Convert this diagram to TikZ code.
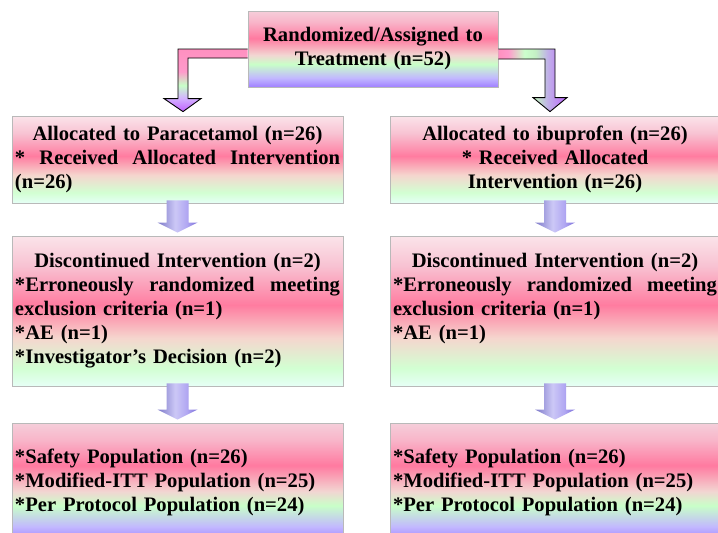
\documentclass[tikz,border=0pt]{standalone}
\usepackage{fontspec}
\setmainfont{Liberation Serif}
\usetikzlibrary{calc}

\definecolor{A1}{HTML}{F5CEDA}
\definecolor{A2}{HTML}{F8B6CA}
\definecolor{A3}{HTML}{FF7AA0}
\definecolor{A4}{HTML}{F2D6D2}
\definecolor{A5}{HTML}{C8FFC8}
\definecolor{A6}{HTML}{C2B8FF}
\definecolor{A7}{HTML}{A080FF}
\definecolor{B1}{HTML}{FBE4EA}
\definecolor{B2}{HTML}{F8C2D2}
\definecolor{B3}{HTML}{FF7CA0}
\definecolor{B4}{HTML}{F5D6CE}
\definecolor{B5}{HTML}{D2FFD2}
\definecolor{B6}{HTML}{E6FFF6}
\definecolor{L1}{HTML}{FF90C0}
\definecolor{L2}{HTML}{FF9ACB}
\definecolor{L3}{HTML}{C8FFC8}
\definecolor{L4}{HTML}{D4B4FF}
\definecolor{L5}{HTML}{C060FF}
\definecolor{R3}{HTML}{CCFFCC}
\definecolor{R4}{HTML}{C4F0C4}
\definecolor{R5}{HTML}{C0B0E8}
\definecolor{R6}{HTML}{BE66FF}
\definecolor{D1}{HTML}{7C78C8}
\definecolor{D2}{HTML}{CCC8F6}
\definecolor{D3}{HTML}{B0A6F2}
\definecolor{D4}{HTML}{7A6ED8}

\pgfdeclareverticalshading{boxA}{100bp}{color(0bp)=(A7); color(25bp)=(A7); color(31bp)=(A6); color(40bp)=(A5); color(46bp)=(A4); color(57bp)=(A3); color(68bp)=(A2); color(75bp)=(A1); color(100bp)=(A1)}
\pgfdeclareverticalshading{boxB}{100bp}{color(0bp)=(B6); color(25bp)=(B6); color(31bp)=(B5); color(41bp)=(B4); color(52bp)=(B3); color(65bp)=(B2); color(75bp)=(B1); color(100bp)=(B1)}
\pgfdeclareverticalshading{bentL}{100bp}{color(0bp)=(L5); color(25bp)=(L5); color(36bp)=(L4); color(46bp)=(L3); color(57bp)=(L2); color(75bp)=(L1); color(100bp)=(L1)}
\pgfdeclarehorizontalshading{bentR}{100bp}{color(0bp)=(L1); color(25bp)=(L1); color(32bp)=(L2); color(44bp)=(R3); color(52bp)=(R4); color(61bp)=(R5); color(75bp)=(R6); color(100bp)=(R6)}
\pgfdeclarehorizontalshading{downarr}{100bp}{color(0bp)=(D1); color(25bp)=(D1); color(47bp)=(D2); color(62bp)=(D3); color(75bp)=(D4); color(100bp)=(D4)}

% a line stretched to the given width (justified)
\newcommand\jline[2]{\makebox[#1][s]{\spaceskip=0.25em plus 1fil\relax #2}}

\begin{document}
\begin{tikzpicture}[x=1pt,y=-1pt,
  box/.style={draw=gray!55, line width=0.8pt, inner xsep=3pt, inner ysep=0pt,
    anchor=center, text width=325pt, align=left,
    font=\fontsize{20.6}{24}\selectfont\bfseries},
  boxa/.style={box, shading=boxA},
  boxb/.style={box, shading=boxB},
  wide/.style={text width=324pt},
  bentarrow/.style={draw=black, line width=0.9pt, line join=miter},
  downarrow/.style={shading=downarr}
]
\useasboundingbox (0,0) rectangle (718,533);
\clip (0,0) rectangle (718,533);

\node[boxa, text width=244pt, align=center, minimum height=76pt] (top) at (373,49)
  {Randomized/Assigned to\\Treatment (n=52)};

\node[boxb, minimum height=87pt] (a1) at (177.5,159.5)
  {\makebox[325pt][c]{Allocated to Paracetamol (n=26)}\\
   \jline{325pt}{* Received Allocated Intervention}\\
   (n=26)};
\node[boxb, wide, minimum height=87pt] (a2) at (555,159.5)
  {\makebox[324pt][c]{Allocated to ibuprofen (n=26)}\\
   \makebox[324pt][c]{* Received Allocated}\\
   \makebox[324pt][c]{Intervention (n=26)}};

\node[boxb, minimum height=150pt] (b1) at (177.5,311)
  {\makebox[325pt][c]{Discontinued Intervention (n=2)}\\
   \jline{325pt}{*Erroneously randomized meeting}\\
   exclusion criteria (n=1)\\
   {}*AE (n=1)\\
   {}*Investigator’s Decision (n=2)};
\node[boxb, wide, minimum height=150pt] (b2) at (555,311)
  {\makebox[324pt][c]{Discontinued Intervention (n=2)}\\
   \jline{324pt}{*Erroneously randomized meeting}\\
   exclusion criteria (n=1)\\
   {}*AE (n=1)\\
   \vphantom{(n)}};

\node[boxa, minimum height=118pt] (c1) at (177.5,482)
  {*Safety Population (n=26)\\
   {}*Modified-ITT Population (n=25)\\
   {}*Per Protocol Population (n=24)};
\node[boxa, wide, minimum height=118pt] (c2) at (555,482)
  {*Safety Population (n=26)\\
   {}*Modified-ITT Population (n=25)\\
   {}*Per Protocol Population (n=24)};

% bent arrows from the top box
\path[bentarrow, shading=bentL] let \p1=(top.west), \p2=(a1.north) in
  (\x1,\y1) -- (\x2+0.5pt,\y1) -- (\x2+0.5pt,\y2+17pt) -- (\x2-13.5pt,\y2+17pt)
  -- (\x2+5.5pt,\y2+4pt) -- (\x2+23.5pt,\y2+17pt) -- (\x2+10.5pt,\y2+17pt)
  -- (\x2+10.5pt,\y1-9pt) -- (\x1,\y1-9pt);
\path[bentarrow, shading=bentR] let \p1=(top.east), \p2=(a2.north) in
  (\x1,\y1) -- (\x2,\y1) -- (\x2,\y2+18pt) -- (\x2+12pt,\y2+18pt)
  -- (\x2-5pt,\y2+4pt) -- (\x2-22pt,\y2+18pt) -- (\x2-10pt,\y2+18pt)
  -- (\x2-10pt,\y1-10pt) -- (\x1,\y1-10pt);

% down arrows between rows
\foreach \u/\v in {a1/b1, a2/b2, b1/c1, b2/c2}{
  \path[downarrow] let \p1=(\u.south), \p2=(\v.north) in
    (\x1-11pt,\y1+3pt) -- (\x1+11pt,\y1+3pt) -- (\x1+11pt,\y2+13pt)
    -- (\x1+20pt,\y2+13pt) -- (\x1,\y2+3pt) -- (\x1-20pt,\y2+13pt)
    -- (\x1-11pt,\y2+13pt) -- cycle;
}
\end{tikzpicture}
\end{document}
